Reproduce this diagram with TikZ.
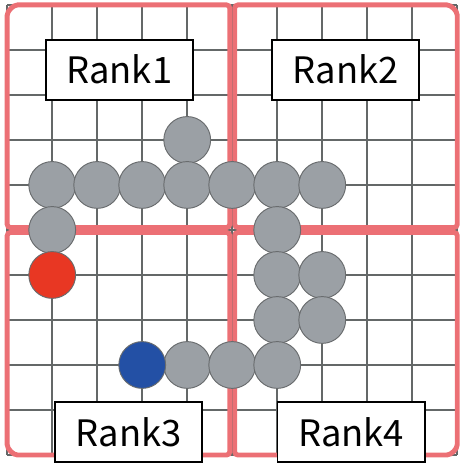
\documentclass[tikz,border=0pt]{standalone}
\usepackage{fontspec}
\usepackage{tikz}
\usetikzlibrary{positioning}
\newfontfamily\rankfont{Noto Sans CJK JP}
\definecolor{framered}{RGB}{236,112,117}
\definecolor{gridgray}{RGB}{100,104,104}
\definecolor{ballgray}{RGB}{155,160,165}
\definecolor{balledge}{RGB}{105,108,110}
\definecolor{ballred}{RGB}{232,55,35}
\definecolor{ballblue}{RGB}{35,80,165}
\tikzset{
  gridline/.style={line width=1pt, color=gridgray},
  quad/.style={line width=3.1pt, draw=framered, rounded corners=2pt},
  ball/.style={circle, draw=balledge, fill=ballgray, minimum size=1.04cm,
    inner sep=0pt, line width=0.6pt},
  rankbox/.style={rectangle, draw=black, fill=white, line width=1.2pt,
    minimum width=3.27cm, minimum height=1.33cm, inner sep=0pt,
    font=\rankfont\fontsize{23}{26}\selectfont}
}

\begin{document}
\begin{tikzpicture}
  \useasboundingbox (-5.16,-5.2) rectangle (5.04,5.11);

  % Grid
  \draw[gridline] (-5,-5) grid (5,5);

  % Rank domains
  \draw[quad] (-0.055,0.055) -- (-5,0.055) -- (-5,4.7)
    arc[start angle=180, end angle=90, radius=0.3] -- (-0.055,5) -- cycle;
  \draw[quad] (0.055,0.055) -- (0.055,5) -- (4.7,5)
    arc[start angle=90, end angle=0, radius=0.3] -- (5,0.055) -- cycle;
  \draw[quad] (-0.055,-0.055) -- (-0.055,-5) -- (-4.7,-5)
    arc[start angle=270, end angle=180, radius=0.3] -- (-5,-0.055) -- cycle;
  \draw[quad] (0.055,-0.055) -- (5,-0.055) -- (5,-4.7)
    arc[start angle=0, end angle=-90, radius=0.3] -- (0.055,-5) -- cycle;

  % Particles
  \node[ball] (p1) at (-1,2) {};
  \node[ball] (p2) at (-4,1) {};
  \node[ball] (p3) at (-3,1) {};
  \node[ball] (p4) at (-2,1) {};
  \node[ball] (p5) at (-1,1) {};
  \node[ball] (p6) at (0,1) {};
  \node[ball] (p7) at (1,1) {};
  \node[ball] (p8) at (2,1) {};
  \node[ball] (p9) at (-4,0) {};
  \node[ball] (p10) at (1,0) {};
  \node[ball] (p11) at (1,-1) {};
  \node[ball] (p12) at (2,-1) {};
  \node[ball] (p13) at (1,-2) {};
  \node[ball] (p14) at (2,-2) {};
  \node[ball] (p15) at (-1,-3) {};
  \node[ball] (p16) at (0,-3) {};
  \node[ball] (p17) at (1,-3) {};

  % Head and tail
  \node[ball, fill=ballred] (head) at (-4,-1) {};
  \node[ball, fill=ballblue] (tail) at (-2,-3) {};

  % Labels
  \node[rankbox] (rank1) at (-2.51,3.56) {Rank1};
  \node[rankbox] (rank2) at (2.52,3.56) {Rank2};
  \node[rankbox] (rank3) at (-2.3,-4.49) {Rank3};
  \node[rankbox] (rank4) at (2.64,-4.49) {Rank4};
\end{tikzpicture}
\end{document}
